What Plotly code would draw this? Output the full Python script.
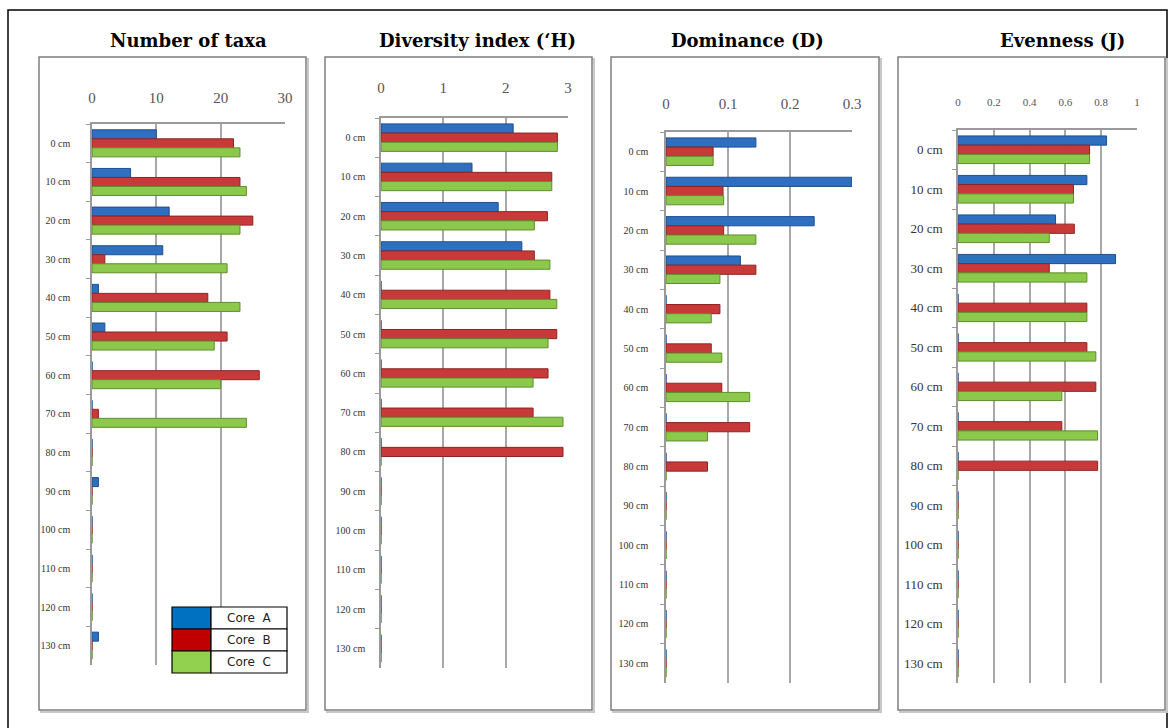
import plotly.graph_objects as go

W, H = 1170, 728

depths = ["0 cm", "10 cm", "20 cm", "30 cm", "40 cm", "50 cm", "60 cm",
          "70 cm", "80 cm", "90 cm", "100 cm", "110 cm", "120 cm", "130 cm"]
cores = ["Core  A", "Core  B", "Core  C"]

taxa_A = [10, 6, 12, 11, 1, 2, 0, 0, 0, 1, 0, 0, 0, 1]
taxa_B = [22, 23, 25, 2, 18, 21, 26, 1, 0, 0, 0, 0, 0, 0]
taxa_C = [23, 24, 23, 21, 23, 19, 20, 24, 0, 0, 0, 0, 0, 0]

div_A = [2.12, 1.46, 1.88, 2.26, 0, 0, 0, 0, 0, 0, 0, 0, 0, 0]
div_B = [2.83, 2.74, 2.67, 2.46, 2.71, 2.82, 2.68, 2.44, 2.92, 0, 0, 0, 0, 0]
div_C = [2.83, 2.74, 2.46, 2.71, 2.82, 2.68, 2.44, 2.92, 0, 0, 0, 0, 0, 0]

dom_A = [0.145, 0.30, 0.239, 0.12, 0, 0, 0, 0, 0, 0, 0, 0, 0, 0]
dom_B = [0.076, 0.092, 0.093, 0.145, 0.087, 0.073, 0.09, 0.135, 0.067, 0, 0, 0, 0, 0]
dom_C = [0.076, 0.093, 0.145, 0.087, 0.073, 0.09, 0.135, 0.067, 0, 0, 0, 0, 0, 0]

even_A = [0.83, 0.72, 0.545, 0.88, 0, 0, 0, 0, 0, 0, 0, 0, 0, 0]
even_B = [0.735, 0.645, 0.65, 0.51, 0.72, 0.72, 0.77, 0.58, 0.78, 0, 0, 0, 0, 0]
even_C = [0.735, 0.645, 0.51, 0.72, 0.72, 0.77, 0.58, 0.78, 0, 0, 0, 0, 0, 0]

titles = ["Number of taxa", "Diversity index (\u2018H)", "Dominance (D)", "Evenness (J)"]
x_ticks = [[0, 10, 20, 30], [0, 1, 2, 3], [0, 0.1, 0.2, 0.3], [0, 0.2, 0.4, 0.6, 0.8, 1]]
x_ticktext = [["0", "10", "20", "30"], ["0", "1", "2", "3"], ["0", "0.1", "0.2", "0.3"],
              ["0", "0.2", "0.4", "0.6", "0.8", "1"]]
x_ranges = [[0, 30], [0, 3], [0, 0.3], [0, 1]]

bar_fill = ["#2F6FC0", "#C83A3A", "#8CC84B"]
bar_edge = ["#1F4F8F", "#8E2424", "#5E8F2C"]
legend_fill = ["#0070C0", "#C00000", "#92D050"]

series = [(taxa_A, taxa_B, taxa_C), (div_A, div_B, div_C),
          (dom_A, dom_B, dom_C), (even_A, even_B, even_C)]

# pixel layout (positions/styles)
px_x = [(92, 285), (381, 568), (666, 852), (958, 1137)]
px_y = [(124, 665), (118, 668), (132, 683), (130, 683)]
boxes = [(39, 57, 306, 710), (325, 57, 592, 710), (611, 57, 879, 710), (898, 57, 1165, 710)]
title_x = [188, 477, 748, 1062]
xstand = [13, 17, 15, 18]
ystand = [18, 12, 14, 11]
xfont = [15, 15, 15, 11]
yfont = [10, 10, 10, 13]


def fx(p):
    return p / W


def fy(p):
    return 1 - p / H


fig = go.Figure()
for i in range(4):
    xa = "x" if i == 0 else f"x{i+1}"
    ya = "y" if i == 0 else f"y{i+1}"
    for k in range(3):
        fig.add_trace(go.Bar(
            x=series[i][k], y=depths, orientation="h", name=cores[k],
            xaxis=xa, yaxis=ya, showlegend=False,
            marker=dict(color=bar_fill[k], line=dict(color=bar_edge[k], width=1)),
        ))

layout = dict(
    autosize=True, height=H, margin=dict(l=0, r=0, t=0, b=0, autoexpand=False),
    paper_bgcolor="white", plot_bgcolor="rgba(0,0,0,0)",
    barmode="group", bargap=0.3, bargroupgap=0,
    font=dict(family="Liberation Serif", color="#333333"),
)
for i in range(4):
    xk = "xaxis" if i == 0 else f"xaxis{i+1}"
    yk = "yaxis" if i == 0 else f"yaxis{i+1}"
    ya = "y" if i == 0 else f"y{i+1}"
    xa = "x" if i == 0 else f"x{i+1}"
    layout[xk] = dict(
        domain=[fx(px_x[i][0]), fx(px_x[i][1])], anchor=ya, side="top",
        range=x_ranges[i], tickvals=x_ticks[i], ticktext=x_ticktext[i],
        showgrid=True, gridcolor="#A8A8A8", gridwidth=1.5,
        showline=True, linecolor="#9A9A9A", linewidth=1.5,
        zeroline=False, ticks="", ticklabelstandoff=xstand[i],
        tickfont=dict(family="Liberation Serif", size=xfont[i], color="#555555"),
        fixedrange=True,
    )
    layout[yk] = dict(
        domain=[fy(px_y[i][1]), fy(px_y[i][0])], anchor=xa,
        type="category", categoryorder="array", categoryarray=depths,
        autorange="reversed",
        showline=True, linecolor="#9A9A9A", linewidth=1.5,
        ticks="outside", tickson="boundaries", ticklen=4, tickcolor="#9A9A9A",
        showgrid=False, ticklabelstandoff=ystand[i],
        tickfont=dict(family="Liberation Serif", size=yfont[i], color="#333333"),
        fixedrange=True,
    )

shapes = []
# outer frame
shapes.append(dict(type="rect", xref="paper", yref="paper",
                   x0=fx(8), x1=fx(1167), y0=fy(735), y1=fy(10),
                   line=dict(color="black", width=1.5), layer="below"))
# panel boxes with soft shadow
for (x0, y0, x1, y1) in boxes:
    shapes.append(dict(type="rect", xref="paper", yref="paper",
                       x0=fx(x0 + 2), x1=fx(x1 + 2), y0=fy(y1 + 2), y1=fy(y0 + 2),
                       line=dict(color="#C8C8C8", width=2), layer="below"))
    shapes.append(dict(type="rect", xref="paper", yref="paper",
                       x0=fx(x0), x1=fx(x1), y0=fy(y1), y1=fy(y0),
                       line=dict(color="#7F7F7F", width=1.5), fillcolor="white", layer="below"))

# manual legend table inside first panel
lx0, lx_mid, lx1 = 172, 211, 287
rows = [607, 629, 651, 673]
annotations = []
for k in range(3):
    shapes.append(dict(type="rect", xref="paper", yref="paper",
                       x0=fx(lx0), x1=fx(lx_mid), y0=fy(rows[k + 1]), y1=fy(rows[k]),
                       line=dict(color="black", width=1.2), fillcolor=legend_fill[k]))
    shapes.append(dict(type="rect", xref="paper", yref="paper",
                       x0=fx(lx_mid), x1=fx(lx1), y0=fy(rows[k + 1]), y1=fy(rows[k]),
                       line=dict(color="black", width=1.2), fillcolor="white"))
    annotations.append(dict(xref="paper", yref="paper", x=fx((lx_mid + lx1) / 2),
                            y=fy((rows[k] + rows[k + 1]) / 2), text=cores[k].replace("  ", "&nbsp; "),
                            showarrow=False, xanchor="center", yanchor="middle",
                            font=dict(family="DejaVu Sans", size=12, color="#222222")))

for i in range(4):
    annotations.append(dict(xref="paper", yref="paper", x=fx(title_x[i]), y=fy(40),
                            text=f"<b>{titles[i]}</b>", showarrow=False,
                            xanchor="center", yanchor="middle",
                            font=dict(family="DejaVu Serif", size=18, color="black")))

layout["shapes"] = shapes
layout["annotations"] = annotations
fig.update_layout(**layout)
fig.write_html("out.html", config={"displayModeBar": False, "responsive": True},
               default_width="100%", default_height=f"{H}px",
               post_script="document.documentElement.style.overflow='hidden';"
                           "document.body.style.margin='0';document.body.style.overflow='hidden';"
                           "window.dispatchEvent(new Event('resize'));")
